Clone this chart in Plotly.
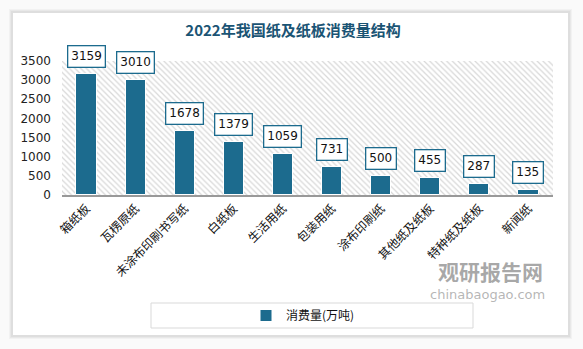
import plotly.graph_objects as go

categories = ["箱纸板", "瓦楞原纸", "未涂布印刷书写纸", "白纸板", "生活用纸",
              "包装用纸", "涂布印刷纸", "其他纸及纸板", "特种纸及纸板", "新闻纸"]
values = [3159, 3010, 1678, 1379, 1059, 731, 500, 455, 287, 135]
series_name = "消费量(万吨)"
title_text = "2022年我国纸及纸板消费量结构"
y_ticks = [0, 500, 1000, 1500, 2000, 2500, 3000, 3500]
y_max = 3500

bar_color = "#1c6b8e"
cjk = "Noto Sans CJK SC"

fig = go.Figure()

# hatched plot background
fig.add_trace(go.Bar(
    x=categories, y=[y_max] * len(categories), width=1,
    marker=dict(color="white", line=dict(width=0),
                pattern=dict(shape="\\", fgcolor="#d8d8d8", bgcolor="white",
                             size=4, solidity=0.3, fillmode="replace")),
    hoverinfo="skip", showlegend=False,
))

fig.add_trace(go.Bar(
    x=categories, y=values, width=0.41, name=series_name,
    marker=dict(color=bar_color, line=dict(color="white", width=1)),
))

for c, v in zip(categories, values):
    fig.add_annotation(
        x=c, y=v, yref="y", xref="x", text=str(v), showarrow=False,
        yanchor="bottom", yshift=6,
        font=dict(family="DejaVu Sans", size=12, color="#111"),
        bgcolor="white", bordercolor=bar_color, borderwidth=1.3, borderpad=3,
    )

# card shadow and card
shapes = []
for i, col in enumerate(["#f2f2f2", "#e8e8e8", "#dedede"]):
    d = 4 - i
    shapes.append(dict(type="rect", xref="paper", yref="paper", layer="below",
                       x0=-49/491 - d/491, x1=1 + 15/491 + d/491,
                       y0=-140/134 - d/134, y1=1 + 48/134 + d/134,
                       fillcolor=col, line=dict(width=0)))
shapes.append(dict(type="rect", xref="paper", yref="paper", layer="below",
                   x0=-49/491, x1=1 + 15/491, y0=-140/134, y1=1 + 48/134,
                   fillcolor="white", line=dict(width=0)))
# legend box
shapes.append(dict(type="rect", xref="paper", yref="paper",
                   x0=(151 - 62) / 491, x1=(473 - 62) / 491,
                   y0=-(328 - 195) / 134, y1=-(303 - 195) / 134,
                   fillcolor="rgba(0,0,0,0)", line=dict(color="#d9d9d9", width=1)))

# watermark
fig.add_annotation(xref="paper", yref="paper", x=(490 - 62) / 491, y=-(271 - 195) / 134,
                   xanchor="center", yanchor="middle",
                   text="<b>观研报告网</b>", showarrow=False,
                   font=dict(family=cjk, size=21, color="rgba(140,140,140,0.75)"))
fig.add_annotation(xref="paper", yref="paper", x=(487 - 62) / 491, y=-(294 - 195) / 134,
                   xanchor="center", yanchor="middle",
                   text="chinabaogao.com", showarrow=False,
                   font=dict(family="DejaVu Sans", size=13, color="rgba(150,150,150,0.7)"))

fig.update_layout(
    width=583, height=349,
    margin=dict(l=62, r=30, t=61, b=154),
    paper_bgcolor="#fafafa", plot_bgcolor="white",
    barmode="overlay", bargap=0,
    shapes=shapes,
    title=dict(text=f"<b>{title_text}</b>", x=293/583, xanchor="center",
               y=1 - 31/349, yanchor="middle",
               font=dict(family=cjk, size=15, color="#1a5474")),
    showlegend=True,
    legend=dict(orientation="h", x=(303 - 62) / 491, xanchor="center",
                y=-(315.5 - 195) / 134, yanchor="middle", itemwidth=30,
                font=dict(family=cjk, size=12, color="#111"),
                bgcolor="rgba(0,0,0,0)", traceorder="normal"),
    xaxis=dict(tickangle=-45, showline=True, linecolor="#999", linewidth=1.5,
               tickfont=dict(family=cjk, size=12, color="#111"),
               ticks="", showgrid=False, range=[-0.5, len(categories) - 0.5]),
    yaxis=dict(range=[0, y_max], tickvals=y_ticks, showgrid=False, zeroline=False,
               showline=False, ticks="", ticklabelstandoff=10,
               tickfont=dict(family="DejaVu Sans", size=12, color="#222")),
)

fig.write_html("out.html")
